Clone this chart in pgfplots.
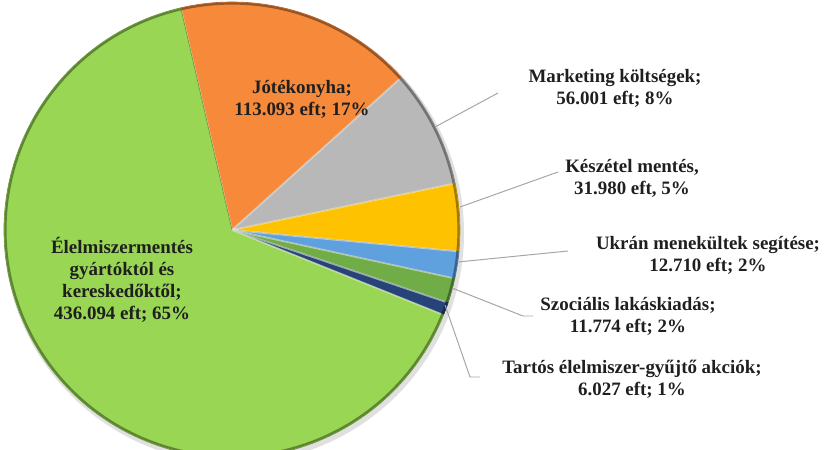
\documentclass[border=0pt]{standalone}
\usepackage{pgfplots}
\pgfplotsset{compat=1.18}
\usepackage{pgfplotstable}
\usepackage{fontspec}
\setmainfont{Liberation Serif}

\definecolor{cGreen}{RGB}{152,214,84}
\definecolor{cOrange}{RGB}{246,138,58}
\definecolor{cGray}{RGB}{184,184,184}
\definecolor{cYellow}{RGB}{255,194,0}
\definecolor{cBlue}{RGB}{95,160,222}
\definecolor{cGreenB}{RGB}{112,173,71}
\definecolor{cNavy}{RGB}{38,68,120}
\definecolor{cLead}{RGB}{166,166,166}

\tikzset{lbl/.style={font=\bfseries\fontsize{19}{22}\selectfont, text=black!88, align=center}}

% slices clockwise, starting at 103 degrees
\pgfplotstableread{
value  color
113093 cOrange
56001  cGray
31980  cYellow
12710  cBlue
11774  cGreenB
6027   cNavy
436094 cGreen
}\piedata

\begin{document}
\begin{tikzpicture}
\begin{axis}[
  width=830bp, height=450bp, scale only axis,
  xmin=0, xmax=830, ymin=0, ymax=450, y dir=reverse,
  hide axis,
]
  \def\total{0}
  \pgfplotsforeachungrouped \i in {0,...,6}{%
    \pgfplotstablegetelem{\i}{value}\of\piedata
    \xdef\total{\fpeval{\total+\pgfplotsretval}}%
  }
  \begin{scope}
  \clip (axis cs:0,0) rectangle (axis cs:830,450);
  % soft shadow
  \fill[black, opacity=0.12] (axis cs:234,233) circle[radius=230bp];
  \def\ang{103}
  \pgfplotsforeachungrouped \i in {0,...,6}{%
    \pgfplotstablegetelem{\i}{value}\of\piedata \let\v\pgfplotsretval
    \pgfplotstablegetelem{\i}{color}\of\piedata \let\c\pgfplotsretval
    \edef\next{\fpeval{\ang-360*\v/\total}}%
    \edef\cmd{%
      \noexpand\fill[\c, draw=\c!70!black, line width=0.6pt, line join=round]
        (axis cs:232,230) -- ++(\ang:228bp) arc[start angle=\ang, end angle=\next, radius=228bp] -- cycle;
      \noexpand\draw[\c!62!black, line width=2.2pt]
        (axis cs:232,230) ++(\ang:226.5bp) arc[start angle=\ang, end angle=\next, radius=226.5bp];
      \noexpand\draw[white, opacity=0.55, line width=1.6pt]
        (axis cs:232,230) -- ++(\ang:225bp);
    }%
    \cmd
    \global\let\ang\next
  }
  \end{scope}

  % leader lines
  \draw[cLead, line width=1pt] (axis cs:435,127) -- (axis cs:498,93);
  \draw[cLead, line width=1pt] (axis cs:460,207) -- (axis cs:558,172);
  \draw[cLead, line width=1pt] (axis cs:458,262) -- (axis cs:568,251);
  \draw[cLead, line width=1pt] (axis cs:452,288) -- (axis cs:523,316) -- (axis cs:533,316);
  \draw[cLead, line width=1pt] (axis cs:445,305) -- (axis cs:470,377) -- (axis cs:480,377);

  % labels
  \node[lbl] at (axis cs:302,99) {Jótékonyha;\\113.093 eft; 17\%};
  \node[lbl] at (axis cs:122,280) {Élelmiszermentés\\gyártóktól és\\kereskedőktől;\\436.094 eft; 65\%};
  \node[lbl] at (axis cs:615,88) {Marketing költségek;\\56.001 eft; 8\%};
  \node[lbl] at (axis cs:632,178) {Készétel mentés,\\31.980 eft, 5\%};
  \node[lbl] at (axis cs:708,255) {Ukrán menekültek segítése;\\12.710 eft; 2\%};
  \node[lbl] at (axis cs:628,316) {Szociális lakáskiadás;\\11.774 eft; 2\%};
  \node[lbl] at (axis cs:632,379) {Tartós élelmiszer-gyűjtő akciók;\\6.027 eft; 1\%};
\end{axis}
\end{tikzpicture}
\end{document}
